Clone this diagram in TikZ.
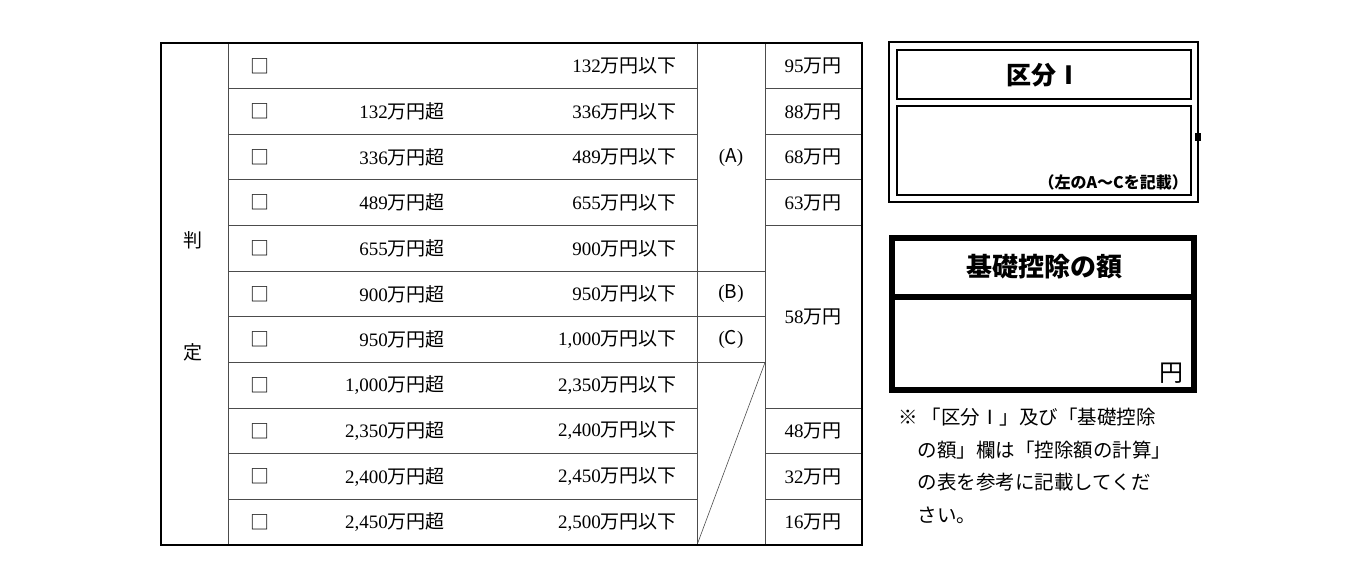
\documentclass[tikz,border=0pt]{standalone}
\usepackage{fontspec}
\setmainfont{Liberation Serif}
\newfontfamily\jp{Noto Sans CJK JP}
\begin{document}
\begin{tikzpicture}[x=1pt,y=-1pt,
    grid/.style={draw=black!70,line width=0.9pt},
    cell/.style={inner sep=0pt,font=\fontsize{19}{19}\selectfont},
    boxline/.style={draw=black,line width=3pt}]

        \def \h {45.64}
        \useasboundingbox (0,0) rectangle (1360,584);

        % Row lines
        \foreach \r in {1,...,10} {
            \draw[grid] (228,{43+\h*\r}) -- (697,{43+\h*\r});
        }
        \foreach \r in {1,2,3,4,8,9,10} {
            \draw[grid] (765,{43+\h*\r}) -- (862,{43+\h*\r});
        }
        \foreach \r in {5,6,7} {
            \draw[grid] (697,{43+\h*\r}) -- (765,{43+\h*\r});
        }
        \draw[grid] (228,43) -- (228,545);
        \draw[grid] (697,43) -- (697,545);
        \draw[grid] (765,43) -- (765,545);
        \coordinate (d1) at (765,{43+\h*7});
        \coordinate (d2) at (697,545);
        \draw[grid,line width=0.6pt] (d1) -- (d2);
        \draw[line width=1.2pt] (161,43) rectangle (862,545);

        % Row texts
        \foreach \lo/\hi [count=\r] in {/132,132/336,336/489,489/655,655/900,900/950,950/{1,000},{1,000}/{2,350},{2,350}/{2,400},{2,400}/{2,450},{2,450}/{2,500}} {
            \def \y {43+\h*(\r-0.5)}
            \node[cell] (chk-\r) at (260,{\y}) {\jp □};
            \node[cell,anchor=east] (hi-\r) at (677,{\y}) {\hi{\jp 万円以下}};
            \ifx\lo\empty\else
                \node[cell,anchor=east] (lo-\r) at (445,{\y}) {\lo{\jp 万円超}};
            \fi
        }
        \node[cell] (han) at (193,240) {\jp 判};
        \node[cell] (tei) at (193,352) {\jp 定};
        \node[cell] (kA) at (731,{43+\h*2.5}) {({\jp A})};
        \node[cell] (kB) at (731,{43+\h*5.5}) {({\jp B})};
        \node[cell] (kC) at (731,{43+\h*6.5}) {({\jp C})};
        \foreach \v/\r in {95/0.5,88/1.5,68/2.5,63/3.5,58/6,48/8.5,32/9.5,16/10.5} {
            \node[cell] (amt-\v) at (813,{43+\h*\r}) {\v{\jp 万円}};
        }

        % Box I
        \draw[line width=2pt] (889,42) rectangle (1198,202);
        \draw[line width=2.6pt] (897,50) rectangle (1191,99);
        \draw[line width=2.6pt] (897,106) rectangle (1191,195);
        \fill (1195,133) rectangle (1201,141);
        \node[font=\jp\bfseries\fontsize{25}{25}\selectfont] (kubun) at (1044,75) {区分Ⅰ};
        \node[anchor=south east,inner sep=0pt,font=\jp\bfseries\fontsize{16}{16}\selectfont] (kisai) at (1188,190) {（左のA～Cを記載）};

        % Box basic deduction
        \draw[line width=6pt] (892,238) rectangle (1194,390);
        \draw[line width=6pt] (892,297) -- (1194,297);
        \node[font=\jp\bfseries\fontsize{26}{26}\selectfont] (kiso) at (1044,267) {基礎控除の額};
        \node[anchor=south east,inner sep=0pt,font=\jp\fontsize{24}{24}\selectfont] (yen) at (1184,384) {円};

        % Note
        \node[anchor=north west,inner sep=0pt,align=left,font=\jp\fontsize{19.5}{32.5}\selectfont] (note) at (898,408)
            {※\hspace{0.2em}「区分Ⅰ」及び「基礎控除\\\hspace{1em}の額」欄は「控除額の計算」\\\hspace{1em}の表を参考に記載してくだ\\\hspace{1em}さい。};

    \end{tikzpicture}
\end{document}
